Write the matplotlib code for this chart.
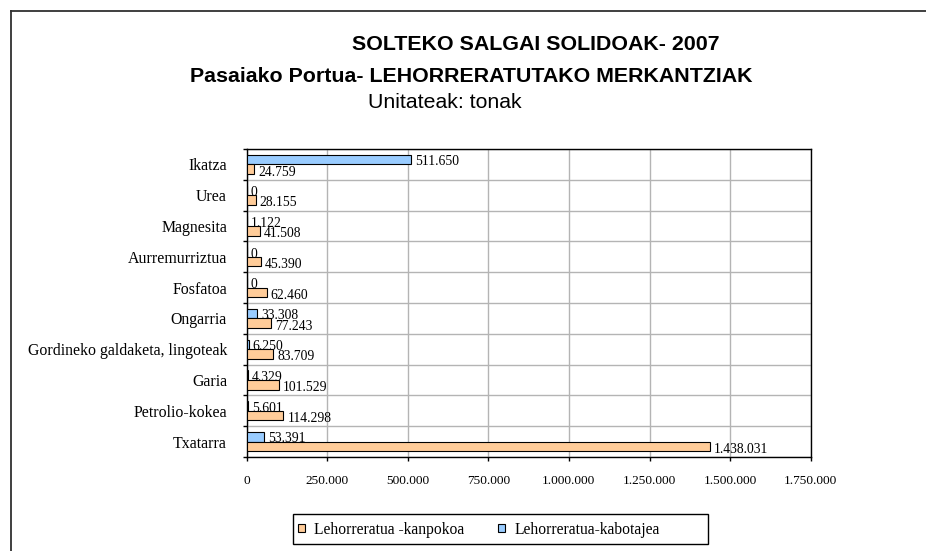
"""
solteko salgai solidoak 2007 - horizontal bar chart
"""

import matplotlib
matplotlib.use("Agg")
import matplotlib.pyplot as plt
from matplotlib.patches import Patch, Rectangle
from matplotlib.lines import Line2D
from matplotlib.ticker import FuncFormatter, FixedLocator
import numpy as np


# data (tonnes), top to bottom
categories = ['Ikatza', 'Urea', 'Magnesita', 'Aurremurriztua', 'Fosfatoa',
              'Ongarria', 'Gordineko galdaketa, lingoteak', 'Garia',
              'Petrolio-kokea', 'Txatarra']
kanpokoa = [24759, 28155, 41508, 45390, 62460, 77243, 83709, 101529, 114298, 1438031]
kabotajea = [511650, 0, 1122, 0, 0, 33308, 6250, 4329, 5601, 53391]
x_ticks = [0, 250000, 500000, 750000, 1000000, 1250000, 1500000, 1750000]

SERIF = 'Liberation Serif'
SANS = 'Liberation Sans'
ORANGE = '#FFCC99'
BLUE = '#99CCFF'


def dots(v):
    """thousands with dots, like the original"""
    return f"{int(v):,}".replace(",", ".")


fig = plt.figure(figsize=(9.26, 5.51), dpi=100)
ax = fig.add_axes([0.2662, 0.1706, 0.6093, 0.559])

pos = np.arange(len(categories))
h = 0.31
ax.barh(pos - h / 2, kabotajea, height=h, color=BLUE, edgecolor='black', linewidth=0.8, zorder=3)
ax.barh(pos + h / 2, kanpokoa, height=h, color=ORANGE, edgecolor='black', linewidth=0.8, zorder=3)

# value labels at the bar ends
for i in range(len(categories)):
    ax.annotate(dots(kabotajea[i]), (kabotajea[i], pos[i] - h / 2), xytext=(4, -2),
                textcoords='offset pixels', va='center', ha='left',
                fontsize=9.8, family=SERIF, zorder=4)
    ax.annotate(dots(kanpokoa[i]), (kanpokoa[i], pos[i] + h / 2), xytext=(4, -3),
                textcoords='offset pixels', va='center', ha='left',
                fontsize=9.8, family=SERIF, zorder=4)

ax.set_xlim(0, 1750000)
ax.set_ylim(len(categories) - 0.5, -0.5)

ax.xaxis.set_major_locator(FixedLocator(x_ticks))
ax.xaxis.set_major_formatter(FuncFormatter(lambda v, p: dots(v)))
for lab in ax.get_xticklabels():
    lab.set_family(SERIF)
ax.tick_params(axis='x', direction='out', length=3, width=1, pad=10, labelsize=9.6)

# category axis: ticks between categories, labels in the middle
ax.yaxis.set_major_locator(FixedLocator(np.arange(len(categories) + 1) - 0.5))
ax.yaxis.set_major_formatter(FuncFormatter(lambda v, p: ''))
ax.yaxis.set_minor_locator(FixedLocator(pos))
ax.set_yticklabels(categories, minor=True, family=SERIF, fontsize=11.4)
ax.tick_params(axis='y', which='major', direction='out', length=3, width=1)
ax.tick_params(axis='y', which='minor', length=0, pad=14)

ax.grid(True, which='major', color='#B4B4B4', linewidth=1, zorder=0)
ax.set_axisbelow(True)
for s in ax.spines.values():
    s.set_color('black')
    s.set_linewidth(1)

# titles
fig.text(535.5 / 926, 1 - 44 / 551, 'SOLTEKO SALGAI SOLIDOAK- 2007', ha='center', va='center',
         family=SANS, fontweight='bold', fontsize=15.4)
fig.text(471 / 926, 1 - 77 / 551, 'Pasaiako Portua- LEHORRERATUTAKO MERKANTZIAK', ha='center',
         va='center', family=SANS, fontweight='bold', fontsize=15.4)
fig.text(445 / 926, 1 - 103 / 551, 'Unitateak: tonak', ha='center', va='center',
         family=SANS, fontsize=15.3)

# legend with its own frame
handles = [Patch(facecolor=ORANGE, edgecolor='black', linewidth=0.8, label='Lehorreratua -kanpokoa'),
           Patch(facecolor=BLUE, edgecolor='black', linewidth=0.8, label='Lehorreratua-kabotajea')]
fig.legend(handles=handles, loc='center left', bbox_to_anchor=(293 / 926, 1 - 529.5 / 551),
           ncol=2, frameon=False, prop={'family': SERIF, 'size': 11.2},
           handlelength=0.45, handleheight=0.45, handletextpad=0.6,
           columnspacing=2.2, borderpad=0.3, borderaxespad=0)
fig.patches.append(Rectangle((293 / 926, 1 - 544 / 551), 415 / 926, 30 / 551,
                             transform=fig.transFigure, fill=False,
                             edgecolor='black', linewidth=1))

# outer chart border (only top and left are inside the picture)
fig.lines.append(Line2D([10.5 / 926, 1], [1 - 11 / 551, 1 - 11 / 551],
                        transform=fig.transFigure, color='#303030', linewidth=1.3))
fig.lines.append(Line2D([10.5 / 926, 10.5 / 926], [0, 1 - 11 / 551],
                        transform=fig.transFigure, color='#303030', linewidth=1.3))

fig.savefig('out.png', dpi=100)
